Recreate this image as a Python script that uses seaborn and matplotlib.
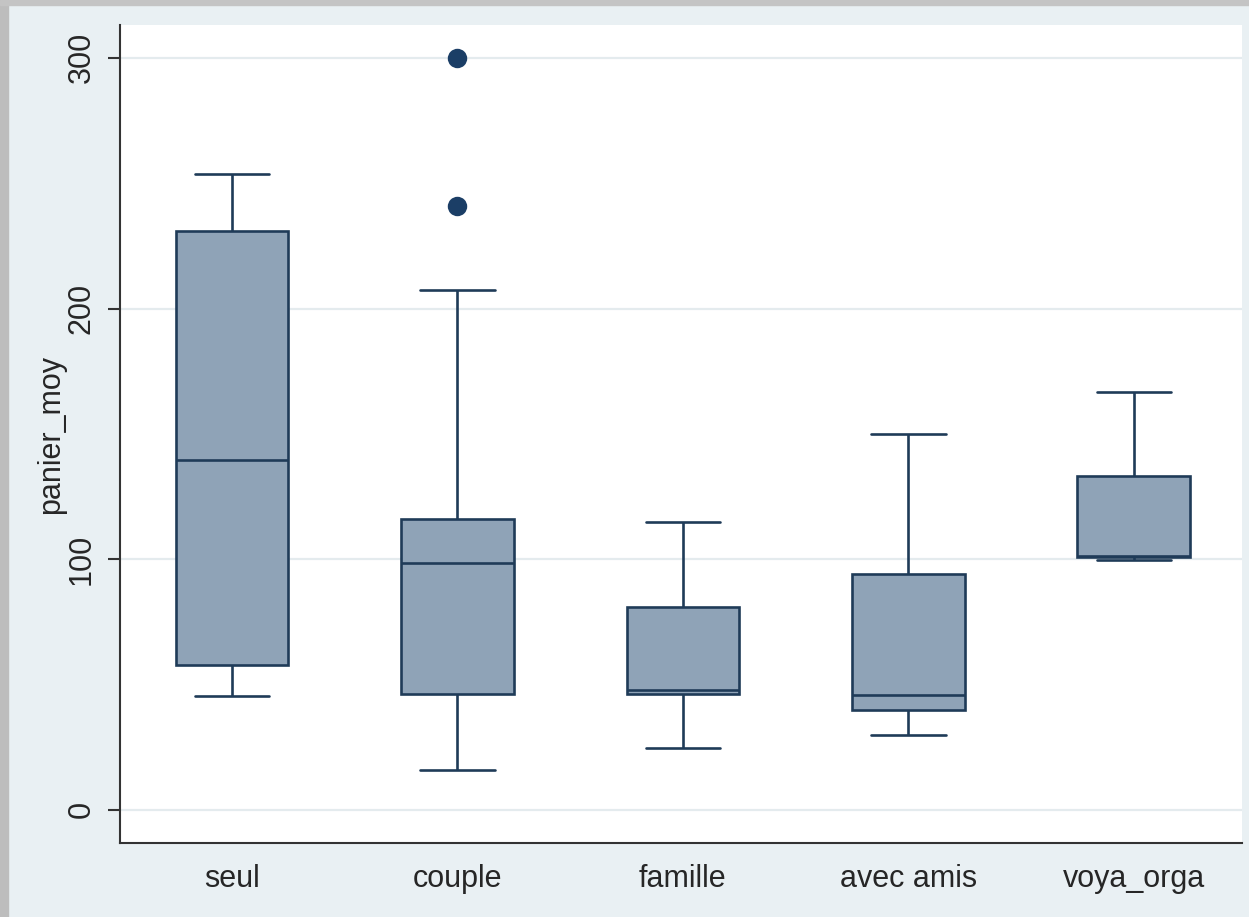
import numpy as np
import pandas as pd
import seaborn as sns
import matplotlib.pyplot as plt
from matplotlib.patches import Rectangle

# categories and box statistics
groups = ["seul", "couple", "famille", "avec amis", "voya_orga"]
whisker_low = [45.5, 16.0, 24.7, 29.9, 99.8]
q1 = [57.8, 46.3, 46.3, 39.9, 101.0]
median = [139.6, 98.5, 47.9, 45.9, 101.3]
q3 = [231.0, 116.0, 81.0, 94.1, 133.2]
whisker_high = [253.7, 207.4, 114.9, 150.0, 166.7]

# outside values
outlier_group = ["couple", "couple"]
outlier_value = [300.0, 241.0]

# long form: five summary values per group -> quartiles land exactly on them
rows = []
for i, g in enumerate(groups):
    for v in (whisker_low[i], q1[i], median[i], q3[i], whisker_high[i]):
        rows.append({"group": g, "panier_moy": v})
df = pd.DataFrame(rows)

sns.set_theme(style="white")
plt.rcParams["font.family"] = ["Liberation Sans", "DejaVu Sans"]

fill = "#8FA3B7"
edge = "#1F3B58"
bg = "#E9F0F3"

fig = plt.figure(figsize=(12.49, 9.17), dpi=100, facecolor=bg)
ax = fig.add_axes([120 / 1249, 1 - 843 / 917, 1122 / 1249, 818 / 917])
ax.set_facecolor("white")

# screenshot frame (gray strip on left and top)
fig.patches.append(Rectangle((0, 0), 8 / 1249, 1, transform=fig.transFigure,
                             color="#BDBDBD", zorder=0))
fig.patches.append(Rectangle((0, 1 - 5 / 917), 1, 5 / 917, transform=fig.transFigure,
                             color="#C4C4C4", zorder=0))

ax.yaxis.grid(True, color="#E4EBEE", linewidth=1.6)
ax.set_axisbelow(True)

sns.boxplot(data=df, x="group", y="panier_moy", order=groups, whis=(0, 100),
            width=0.5, color=fill, linecolor=edge, linewidth=1.9,
            saturation=1, capwidths=0.33, ax=ax)
sns.stripplot(x=outlier_group, y=outlier_value, order=groups, jitter=False,
              color="#1B3E66", size=14, linewidth=0, ax=ax)

ax.set_xlim(-0.497, 4.48)
ax.set_ylim(-13.2, 313.1)
ax.set_yticks([0, 100, 200, 300])
ax.set_yticklabels(["0", "100", "200", "300"], rotation=90, va="center")

ax.set_xlabel("")
ax.set_ylabel("panier_moy", fontsize=22, color="#262626", labelpad=0)
ax.tick_params(axis="y", length=9, width=1.5, color="#333333", pad=8,
               labelsize=22, labelcolor="#262626", left=True)
ax.tick_params(axis="x", length=0, pad=15, labelsize=22, labelcolor="#262626")

for s in ("top", "right"):
    ax.spines[s].set_visible(False)
for s in ("left", "bottom"):
    ax.spines[s].set_color("#333333")
    ax.spines[s].set_linewidth(1.5)

fig.savefig("out.png", dpi=100, facecolor=bg)
